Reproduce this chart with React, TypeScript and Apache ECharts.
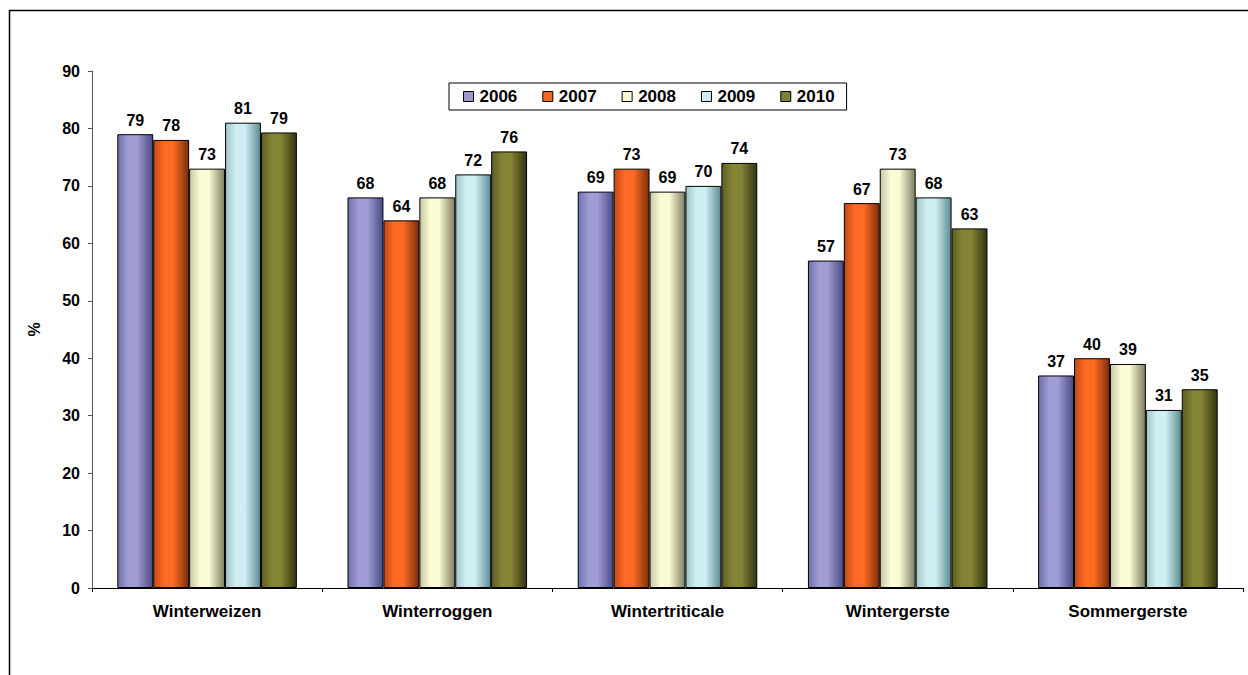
import React, { useEffect, useRef } from "react";
import * as echarts from "echarts";

const categories = ["Winterweizen", "Winterroggen", "Wintertriticale", "Wintergerste", "Sommergerste"];
const years = ["2006", "2007", "2008", "2009", "2010"];
const values2006 = [79, 68, 69, 57, 37];
const values2007 = [78, 64, 73, 67, 40];
const values2008 = [73, 68, 69, 73, 39];
const values2009 = [81, 72, 70, 68, 31];
const values2010 = [79.3, 76, 74, 62.6, 34.6];
const yTicks = [0, 10, 20, 30, 40, 50, 60, 70, 80, 90];

const seriesValues = [values2006, values2007, values2008, values2009, values2010];
const flatColors = ["#9999CC", "#F26522", "#FAFAD2", "#CCEEF2", "#808033"];
const lightColors = ["#9f9dd3", "#ff6a24", "#fbfbd6", "#d0eff4", "#848436"];
const leftDark = ["#6f6fae", "#c04a18", "#c8c8a4", "#9cc4c9", "#5d5d25"];
const rightDark = ["#4a4a86", "#7a2e0c", "#7e7e62", "#5c8a90", "#33330f"];

export default function App() {
  const ref = useRef<HTMLDivElement>(null);
  useEffect(() => {
    if (!ref.current) return;
    const chart = echarts.init(ref.current, null, { renderer: "svg" });
    const font = "Arial, 'Liberation Sans', sans-serif";
    chart.setOption({
      animation: false,
      backgroundColor: "#ffffff",
      textStyle: { fontFamily: font },
      graphic: [
        {
          type: "line",
          shape: { x1: 9.5, y1: 10, x2: 9.5, y2: 700 },
          style: { stroke: "#000", lineWidth: 1.5 },
          silent: true,
        },
        {
          type: "line",
          shape: { x1: 9, y1: 10.5, x2: 1300, y2: 10.5 },
          style: { stroke: "#000", lineWidth: 1.5 },
          silent: true,
        },
      ],
      legend: {
        left: 449,
        top: 83,
        width: 398,
        height: 29,
        padding: [5, 12, 5, 14],
        itemGap: 25,
        itemWidth: 10,
        itemHeight: 10,
        borderColor: "#000",
        borderWidth: 1,
        borderRadius: 0,
        icon: "rect",
        textStyle: { fontWeight: "bold", fontSize: 17, color: "#000", fontFamily: font, padding: [0, 0, 0, 1] },
        data: years.map((y, i) => ({
          name: y,
          itemStyle: { color: flatColors[i], borderColor: "#000", borderWidth: 1 },
        })),
      },
      grid: { left: 92, right: 5, top: 71, bottom: 87, containLabel: false },
      xAxis: {
        type: "category",
        data: categories,
        axisLine: { lineStyle: { color: "#000", width: 1.2 } },
        axisTick: { show: true, length: 4, inside: false, alignWithLabel: false, lineStyle: { color: "#000" } },
        axisLabel: { fontWeight: "bold", fontSize: 17, color: "#000", margin: 15, fontFamily: font, letterSpacing: 0.8 } as any,
      },
      yAxis: {
        type: "value",
        min: 0,
        max: 90,
        interval: 10,
        name: "%",
        nameLocation: "middle",
        nameGap: 50,
        nameRotate: 90,
        nameTextStyle: { fontWeight: "bold", fontSize: 16, color: "#000", fontFamily: font },
        splitLine: { show: false },
        axisLine: { show: true, lineStyle: { color: "#555", width: 1 } },
        axisTick: { show: true, length: 4, lineStyle: { color: "#555" } },
        axisLabel: {
          fontWeight: "bold",
          fontSize: 16,
          color: "#000",
          margin: 12,
          fontFamily: font,
          formatter: (v: number) => (yTicks.includes(v) ? String(v) : ""),
        },
      },
      series: years.map((y, i) => ({
        name: y,
        type: "bar",
        data: seriesValues[i],
        barGap: "0%",
        barCategoryGap: "22%",
        itemStyle: {
          color: {
            type: "linear",
            x: 0,
            y: 0,
            x2: 1,
            y2: 0,
            colorStops: [
              { offset: 0, color: leftDark[i] },
              { offset: 0.3, color: lightColors[i] },
              { offset: 0.55, color: lightColors[i] },
              { offset: 1, color: rightDark[i] },
            ],
          },
          borderColor: "#000",
          borderWidth: 1,
        },
        label: {
          show: true,
          position: "top",
          distance: 6,
          fontWeight: "bold",
          fontSize: 16,
          color: "#000",
          fontFamily: font,
          formatter: (p: any) => String(Math.round(p.value)),
        },
      })),
    });
    return () => chart.dispose();
  }, []);
  return (
    <div
      ref={ref}
      style={{ position: "fixed", left: 0, top: 0, width: 1248, height: 675 }}
    />
  );
}
